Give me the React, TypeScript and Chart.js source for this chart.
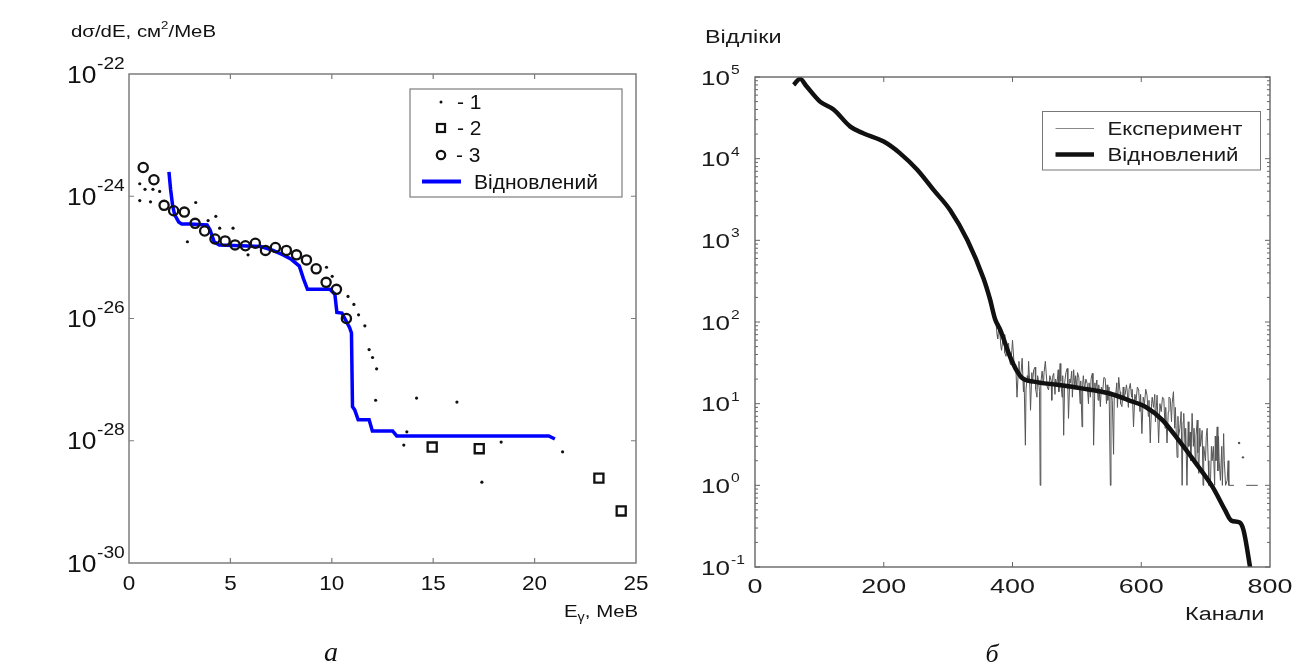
import React, { useEffect, useRef } from "react";
import { Chart, registerables } from "chart.js";
Chart.register(...registerables);

// ---------- Panel а : dσ/dE vs Eγ ----------
const energyDots = [0.53, 0.79, 1.18, 1.51, 0.53, 1.06, 3.29, 4.28, 3.9, 4.47, 5.13, 2.88, 5.87, 9.74, 10.02, 10.8, 11.09, 11.32, 11.63, 11.84, 12.01, 12.21, 12.16, 14.18, 16.17, 13.7, 13.55, 18.35, 17.4, 21.38];
const sigmaDots = [1.6e-24, 1.3e-24, 1.3e-24, 1.2e-24, 8.5e-25, 8.1e-25, 7.9e-25, 4.7e-25, 4.0e-25, 3.0e-25, 3.0e-25, 1.8e-25, 1.1e-25, 6.9e-26, 4.9e-26, 2.3e-26, 1.7e-26, 1.15e-26, 7.6e-27, 3.1e-27, 2.3e-27, 1.5e-27, 4.6e-28, 5.0e-28, 4.3e-28, 1.4e-28, 8.5e-29, 9.5e-29, 2.1e-29, 6.6e-29];
const energySquares = [14.95, 17.27, 23.17, 24.27];
const sigmaSquares = [7.9e-29, 7.4e-29, 2.45e-29, 7.1e-30];
const energyCircles = [0.7, 1.23, 1.73, 2.2, 2.73, 3.26, 3.73, 4.24, 4.74, 5.23, 5.74, 6.23, 6.73, 7.22, 7.76, 8.26, 8.75, 9.23, 9.72, 10.23, 10.72];
const sigmaCircles = [2.95e-24, 1.86e-24, 7.1e-25, 5.8e-25, 5.5e-25, 3.6e-25, 2.7e-25, 2.0e-25, 1.86e-25, 1.6e-25, 1.55e-25, 1.7e-25, 1.3e-25, 1.45e-25, 1.3e-25, 1.1e-25, 9.1e-26, 6.5e-26, 3.9e-26, 3.0e-26, 1.0e-26];
const energyRestored = [1.97, 2.05, 2.15, 2.25, 2.45, 2.6, 3.0, 3.85, 4.0, 4.2, 4.45, 5.5, 6.5, 7.1, 7.6, 8.0, 8.4, 8.6, 8.8, 9.9, 10.15, 10.25, 10.5, 10.88, 10.97, 11.02, 11.13, 11.3, 11.84, 12.0, 13.0, 13.2, 20.7, 21.0];
const sigmaRestored = [2.5e-24, 1.3e-24, 7.1e-25, 5.0e-25, 3.8e-25, 3.5e-25, 3.5e-25, 3.4e-25, 2.8e-25, 1.8e-25, 1.6e-25, 1.55e-25, 1.5e-25, 1.3e-25, 1.1e-25, 9.3e-26, 7.2e-26, 4.5e-26, 3.0e-26, 3.0e-26, 2.5e-26, 1.26e-26, 1.23e-26, 7.1e-27, 5.8e-27, 3.6e-28, 3.2e-28, 2.2e-28, 2.2e-28, 1.45e-28, 1.45e-28, 1.2e-28, 1.2e-28, 1.07e-28];
const xTicksA = [0, 5, 10, 15, 20, 25];
const yExpA = [-30, -28, -26, -24, -22];
const legendLabelsA = ["- 1", "- 2", "- 3", "Відновлений"];

// ---------- Panel б : Відліки vs Канали ----------
const channelsRestored = [60, 70, 80, 101, 122, 148, 168, 200, 225, 252, 277, 303, 330, 355, 365, 373, 381, 396, 407, 415, 433, 470, 505, 548, 581, 607, 633, 659, 685, 711, 730, 740, 753, 759, 769, 775];
const countsRestored = [80000, 95000, 77000, 50000, 40000, 24700, 20500, 16200, 11700, 7300, 4170, 2350, 1000, 340, 190, 108, 80, 38, 25, 20.6, 18.6, 17, 15.5, 13.5, 11, 9.1, 6.3, 3.5, 1.86, 0.95, 0.5, 0.37, 0.35, 0.28, 0.1, 0.05];
// [channel, counts] pairs of the measured spectrum (null = empty channel)
const experimentCounts: [number, number | null][] = [
  [360, 250], [364, 180], [367, 200], [370, 140], [372, 120], [374, 105], [376, 70], [377, 62], [379, 95], [380, 80],
  [382, 50], [383, 45], [385, 60], [387, 70], [388, 42], [390, 38], [392, 50], [394, 55], [395, 35], [397, 30],
  [399, 45], [400, 60], [402, 35], [403, 26], [405, 30], [407, 12], [409, 25], [410, 33], [411, 22], [412, 20],
  [414, 28], [415, 36], [417, 14], [418, 20], [420, 3.1], [421, 15], [423, 22], [424, 18], [425, 33], [427, 16],
  [428, 8.3], [430, 24], [431, 18], [433, 26], [435, 28], [436, 15], [438, 12], [439, 22], [440, 20], [442, 14],
  [443, 1.0], [444, 18], [446, 25], [448, 17], [449, 24], [451, 33], [453, 20], [454, 16], [456, 14.7], [458, 22],
  [460, 19], [461, 11], [462, 21], [464, 23.5], [466, 13], [467, 20], [469, 17], [471, 26], [472, 14], [474, 31],
  [475, 19], [477, 12], [478, 22], [479.5, 4.1], [481, 18], [483, 24], [485, 27], [486, 15], [487, 6.6], [489, 20],
  [490, 18], [492, 25], [493, 12], [495, 26], [497, 15], [498, 22], [500, 16], [501, 24], [503, 21], [505, 10],
  [506, 19], [508, 5.2], [509, 17], [510, 22], [512, 15], [514, 20], [516, 17.7], [518, 10], [519, 18], [521, 12],
  [522, 20], [524, 23.5], [525, 14], [526, 3.1], [528, 18], [529, 14], [531, 19.5], [533, 11], [534, 17], [536.5, 9.2],
  [538, 16], [540, 14], [542, 21], [544, 20.4], [546, 10], [547, 17], [548, 11], [550, 16], [552, 1.0], [553, 14],
  [555, 11], [557, 2.4], [558, 12], [560, 12], [562, 18], [563, 9], [565, 21], [567, 14], [568, 10], [570, 9.2],
  [572, 16], [573, 12], [575, 13], [577, 17], [578, 14.7], [580, 9], [581, 15], [583, 17.7], [585, 12], [586, 15],
  [588, 5.2], [590, 13], [592, 11], [594, 16], [596, 14.7], [598, 8], [599, 13], [601, 4.3], [603, 12], [605, 10],
  [607, 15], [609, 12.7], [611, 7], [612, 11], [614, 3.3], [616, 10], [617, 12], [619, 9], [621, 13], [622, 6],
  [624.6, 12.7], [627, 3.3], [629, 10], [631, 8], [633, 12], [635, 11.6], [637, 5], [638, 9], [640, 3.3], [642, 8],
  [643, 12], [645, 11.6], [647, 6], [648, 10], [650, 14], [652, 5], [653, 9], [655.7, 2.2], [657, 7], [658, 4],
  [660, 5], [662, 8], [663.5, 1.0], [665, 6], [666, 7.6], [668, 3], [669, 5], [671, 1.0], [673, 6], [674, 3],
  [676, 4.5], [677, 2], [679, 7.6], [681, 3], [682, 5], [684, 2.0], [685, 4], [687, 6.3], [688, 2.5], [689.4, 1.4],
  [691, 5], [692, 3], [694.6, 4.7], [696, 1.0], [697, 3], [699.8, 2.0], [701, 4], [702.4, 5.0], [704, 2], [705, 1.0],
  [707.6, 1.15], [709, 3], [710, 2], [712, 3.0], [714, 1.0], [715, 4], [716, 2], [718, 5.2], [719, 1.5], [720, 4],
  [721, 2], [723, 1.15], [725, 3], [726, 1.0], [728, 4.3], [729, 2], [731, 1.0], [733.5, 1.15], [735, 2], [736, 1.0],
  [738, 1.0], [741, 1.0], [744, 1.0], [748, null], [752, 3.3], [754, null], [758, 2.2], [760, null], [763, 1.0], [781, 1.0],
];
const xTicksB = [0, 200, 400, 600, 800];
const yExpB = [-1, 0, 1, 2, 3, 4, 5];
const legendLabelsB = ["Експеримент", "Відновлений"];

// ---------- helpers ----------
const SANS = '"Liberation Sans", Arial, Helvetica, sans-serif';
const SERIF = '"Liberation Serif", "Times New Roman", serif';
type Seg = { t: string; size: number; dy?: number };

function drawSegs(ctx: CanvasRenderingContext2D, x: number, y: number, segs: Seg[], sx = 1, color = "#111", align: "left" | "center" | "right" = "left", family = SANS, style = "") {
  ctx.save();
  ctx.fillStyle = color;
  ctx.textBaseline = "alphabetic";
  ctx.textAlign = "left";
  let total = 0;
  const widths = segs.map((s) => {
    ctx.font = `${style} ${s.size}px ${family}`;
    const w = ctx.measureText(s.t).width * sx;
    total += w;
    return w;
  });
  let cx = align === "left" ? x : align === "center" ? x - total / 2 : x - total;
  segs.forEach((s, i) => {
    ctx.font = `${style} ${s.size}px ${family}`;
    ctx.save();
    ctx.translate(cx, y + (s.dy || 0));
    ctx.scale(sx, 1);
    ctx.fillText(s.t, 0, 0);
    ctx.restore();
    cx += widths[i];
  });
  ctx.restore();
}

const pts = (xs: number[], ys: (number | null)[]) => xs.map((x, i) => ({ x, y: ys[i] }));

// ---------- plugin: panel а ----------
const decorA = {
  id: "decorA",
  afterDraw(chart: any) {
    const { ctx, chartArea: a } = chart;
    const xs = chart.scales.x, ys = chart.scales.y;
    ctx.save();
    ctx.strokeStyle = "#7d7d7d";
    ctx.lineWidth = 1.5;
    ctx.strokeRect(a.left, a.top, a.right - a.left, a.bottom - a.top);
    ctx.lineWidth = 1.2;
    ctx.beginPath();
    xTicksA.slice(1, -1).forEach((v) => {
      const px = xs.getPixelForValue(v);
      ctx.moveTo(px, a.bottom); ctx.lineTo(px, a.bottom - 5);
      ctx.moveTo(px, a.top); ctx.lineTo(px, a.top + 5);
    });
    yExpA.slice(1, -1).forEach((e) => {
      const py = ys.getPixelForValue(Math.pow(10, e));
      ctx.moveTo(a.left, py); ctx.lineTo(a.left + 5, py);
      ctx.moveTo(a.right, py); ctx.lineTo(a.right - 5, py);
    });
    ctx.stroke();
    ctx.restore();

    xTicksA.forEach((v) => drawSegs(ctx, xs.getPixelForValue(v), 590, [{ t: String(v), size: 21 }], 1.07, "#111", "center"));
    yExpA.forEach((e) => {
      const py = ys.getPixelForValue(Math.pow(10, e));
      drawSegs(ctx, 67, py + 8.5, [{ t: "10", size: 24 }], 1.1);
      drawSegs(ctx, 97, py - 5.5, [{ t: String(e), size: 16 }], 1.2);
    });
    drawSegs(ctx, 71, 37, [{ t: "dσ/dE, см", size: 17 }, { t: "2", size: 11, dy: -8 }, { t: "/MeB", size: 17 }], 1.2);
    drawSegs(ctx, 564, 617, [{ t: "E", size: 17 }, { t: "γ", size: 12, dy: 4 }, { t: ", MeB", size: 17 }], 1.2);

    // legend
    ctx.save();
    ctx.fillStyle = "#ffffff";
    ctx.strokeStyle = "#7d7d7d";
    ctx.lineWidth = 1.2;
    ctx.fillRect(410, 89, 212, 108);
    ctx.strokeRect(410, 89, 212, 108);
    ctx.fillStyle = "#111";
    ctx.beginPath(); ctx.arc(441, 102, 1.5, 0, Math.PI * 2); ctx.fill();
    ctx.strokeStyle = "#111"; ctx.lineWidth = 2.2;
    ctx.strokeRect(437, 124, 8, 8);
    ctx.beginPath(); ctx.arc(441, 155, 4.2, 0, Math.PI * 2); ctx.stroke();
    ctx.strokeStyle = "#0000ff"; ctx.lineWidth = 4;
    ctx.beginPath(); ctx.moveTo(422, 181.5); ctx.lineTo(461, 181.5); ctx.stroke();
    ctx.restore();
    drawSegs(ctx, 457, 108.5, [{ t: legendLabelsA[0], size: 21 }]);
    drawSegs(ctx, 457, 135, [{ t: legendLabelsA[1], size: 21 }]);
    drawSegs(ctx, 456, 162, [{ t: legendLabelsA[2], size: 21 }]);
    drawSegs(ctx, 474, 188.5, [{ t: legendLabelsA[3], size: 21 }]);

    drawSegs(ctx, 331, 661, [{ t: "а", size: 28 }], 1, "#111", "center", SERIF, "italic");
  },
};

// ---------- plugin: panel б ----------
const decorB = {
  id: "decorB",
  afterDraw(chart: any) {
    const { ctx, chartArea: a } = chart;
    const xs = chart.scales.x, ys = chart.scales.y;
    ctx.save();
    ctx.strokeStyle = "#666";
    ctx.lineWidth = 1.4;
    ctx.strokeRect(a.left, a.top, a.right - a.left, a.bottom - a.top);
    ctx.lineWidth = 1;
    ctx.beginPath();
    xTicksB.slice(1, -1).forEach((v) => {
      const px = xs.getPixelForValue(v);
      ctx.moveTo(px, a.bottom); ctx.lineTo(px, a.bottom - 5);
      ctx.moveTo(px, a.top); ctx.lineTo(px, a.top + 5);
    });
    yExpB.forEach((e) => {
      for (let k = 1; k <= 9; k++) {
        const v = k * Math.pow(10, e);
        if (v > 1e5) break;
        const py = ys.getPixelForValue(v);
        const len = k === 1 ? 5 : 3;
        ctx.moveTo(a.left, py); ctx.lineTo(a.left + len, py);
        ctx.moveTo(a.right, py); ctx.lineTo(a.right - len, py);
      }
    });
    ctx.stroke();
    ctx.restore();

    xTicksB.forEach((v) => drawSegs(ctx, xs.getPixelForValue(v), 593, [{ t: String(v), size: 21 }], 1.28, "#1a1a1a", "center"));
    yExpB.forEach((e) => {
      const py = ys.getPixelForValue(Math.pow(10, e));
      drawSegs(ctx, 53, py + 7.5, [{ t: "10", size: 21 }], 1.24, "#1a1a1a");
      drawSegs(ctx, 83, py - 3, [{ t: String(e), size: 13 }], 1.2, "#1a1a1a");
    });
    drawSegs(ctx, 57, 43, [{ t: "Відліки", size: 18 }], 1.3, "#1a1a1a");
    drawSegs(ctx, 537, 620, [{ t: "Канали", size: 18 }], 1.3, "#1a1a1a");

    // legend
    ctx.save();
    ctx.fillStyle = "#ffffff";
    ctx.strokeStyle = "#777";
    ctx.lineWidth = 1;
    ctx.fillRect(394.5, 111.5, 218, 58.5);
    ctx.strokeRect(394.5, 111.5, 218, 58.5);
    ctx.strokeStyle = "#888"; ctx.lineWidth = 1;
    ctx.beginPath(); ctx.moveTo(407.5, 128.5); ctx.lineTo(446, 128.5); ctx.stroke();
    ctx.strokeStyle = "#111"; ctx.lineWidth = 4.5;
    ctx.beginPath(); ctx.moveTo(407.5, 154.5); ctx.lineTo(446, 154.5); ctx.stroke();
    ctx.restore();
    drawSegs(ctx, 459.5, 135, [{ t: legendLabelsB[0], size: 18.5 }], 1.2, "#1a1a1a");
    drawSegs(ctx, 459.5, 161, [{ t: legendLabelsB[1], size: 18.5 }], 1.2, "#1a1a1a");

    drawSegs(ctx, 344, 662, [{ t: "б", size: 26 }], 1, "#111", "center", SERIF, "italic");
  },
};

function configA(): any {
  return {
    type: "line",
    data: {
      datasets: [
        { label: "1", data: pts(energyDots, sigmaDots), showLine: false, pointStyle: "circle", pointRadius: 1.6, pointBorderWidth: 0, pointBackgroundColor: "#111", order: 0 },
        { label: "2", data: pts(energySquares, sigmaSquares), showLine: false, pointStyle: "rect", pointRadius: 6.4, pointBorderWidth: 2.3, pointBorderColor: "#111", pointBackgroundColor: "rgba(255,255,255,0)", order: 1 },
        { label: "3", data: pts(energyCircles, sigmaCircles), showLine: false, pointStyle: "circle", pointRadius: 4.6, pointBorderWidth: 2.3, pointBorderColor: "#111", pointBackgroundColor: "rgba(255,255,255,0)", order: 2 },
        { label: "Відновлений", data: pts(energyRestored, sigmaRestored), borderColor: "#0000ff", borderWidth: 3.5, pointRadius: 0, fill: false, tension: 0, order: 3 },
      ],
    },
    options: {
      animation: false,
      responsive: false,
      maintainAspectRatio: false,
      layout: { padding: { left: 129, top: 74, right: 12, bottom: 101 } },
      plugins: { legend: { display: false }, tooltip: { enabled: false } },
      scales: {
        x: { type: "linear", min: 0, max: 25, display: false },
        y: { type: "logarithmic", min: 1e-30, max: 1e-22, display: false },
      },
    },
    plugins: [decorA],
  };
}

function configB(): any {
  const expData = experimentCounts.map(([x, y]) => ({ x, y }));
  return {
    type: "line",
    data: {
      datasets: [
        { label: "Відновлений", data: pts(channelsRestored, countsRestored), borderColor: "#111", borderWidth: 4.5, pointRadius: 0, cubicInterpolationMode: "monotone", fill: false, order: 0 },
        {
          label: "Експеримент", data: expData, borderColor: "#555", borderWidth: 1, spanGaps: false, fill: false, tension: 0, order: 1,
          pointBorderWidth: 0, pointBackgroundColor: "#555",
          pointRadius: (c: any) => {
            const i = c.dataIndex;
            const prev = experimentCounts[i - 1];
            const next = experimentCounts[i + 1];
            return prev && next && prev[1] === null && next[1] === null ? 1.2 : 0;
          },
        },
      ],
    },
    options: {
      animation: false,
      responsive: false,
      maintainAspectRatio: false,
      layout: { padding: { left: 107, top: 77, right: 26, bottom: 97 } },
      plugins: { legend: { display: false }, tooltip: { enabled: false } },
      scales: {
        x: { type: "linear", min: 0, max: 800, display: false },
        y: { type: "logarithmic", min: 0.1, max: 1e5, display: false },
      },
    },
    plugins: [decorB],
  };
}

export default function App() {
  const refA = useRef<HTMLCanvasElement>(null);
  const refB = useRef<HTMLCanvasElement>(null);
  useEffect(() => {
    const a = new Chart(refA.current as HTMLCanvasElement, configA());
    const b = new Chart(refB.current as HTMLCanvasElement, configB());
    return () => {
      a.destroy();
      b.destroy();
    };
  }, []);
  return (
    <div style={{ position: "absolute", left: 0, top: 0, width: 1296, height: 664, background: "#ffffff", overflow: "hidden" }}>
      <canvas ref={refA} width={648} height={664} style={{ position: "absolute", left: 0, top: 0, width: 648, height: 664 }} />
      <canvas ref={refB} width={648} height={664} style={{ position: "absolute", left: 648, top: 0, width: 648, height: 664 }} />
    </div>
  );
}
